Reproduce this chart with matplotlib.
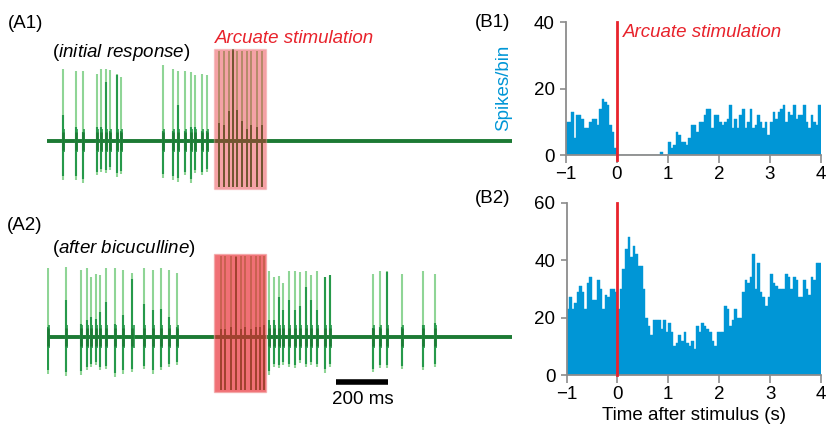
import numpy as np
import matplotlib
matplotlib.use("Agg")
import matplotlib.pyplot as plt
from matplotlib.patches import Rectangle

plt.rcParams['font.family'] = 'Liberation Sans'
plt.rcParams['mathtext.fontset'] = 'custom'
plt.rcParams['mathtext.it'] = 'Liberation Sans:italic'
plt.rcParams['mathtext.rm'] = 'Liberation Sans'

# ---------------------------------------------------------------------------
# DATA
# ---------------------------------------------------------------------------
# traces: spike time (s), upward peak, downward peak, dark core height (a.u.)
a1_t    = [0.063, 0.112, 0.137, 0.191, 0.207, 0.227, 0.242, 0.270, 0.283,
           0.446, 0.486, 0.505, 0.531, 0.553, 0.569, 0.595, 0.617]
a1_up   = [72, 70, 70, 67, 72, 72, 71, 67, 64, 76, 72, 70, 70, 69, 66, 67, 66]
a1_down = [39, 39, 42, 34, 31, 32, 29, 36, 33, 37, 39, 41, 34, 42, 32, 34, 31]
a1_core = [26, 14, 9, 14, 14, 59, 10, 66, 10, 10, 10, 36, 10, 14, 14, 10, 10]

a2_t    = [0.005, 0.072, 0.129, 0.154, 0.170, 0.187, 0.204, 0.228, 0.260,
           0.293, 0.329, 0.373, 0.409, 0.437, 0.470, 0.499,
           0.854, 0.873, 0.892, 0.909, 0.931, 0.954, 0.975, 0.997, 1.018,
           1.038, 1.069, 1.088, 1.255, 1.281, 1.307, 1.368, 1.446, 1.492]
a2_up   = [69, 70, 67, 69, 60, 63, 62, 69, 69, 67, 64, 69, 67, 69, 67, 64,
           66, 60, 61, 54, 66, 66, 65, 66, 62, 66, 60, 61, 63, 66, 66, 63, 66, 63]
a2_down = [37, 39, 38, 33, 30, 28, 33, 32, 40, 37, 35, 32, 37, 33, 30, 28,
           38, 30, 31, 28, 30, 31, 26, 30, 28, 30, 36, 30, 35, 31, 31, 32, 33, 30]
a2_core = [10, 37, 13, 17, 20, 18, 25, 35, 13, 22, 58, 33, 27, 28, 20, 10,
           17, 17, 40, 27, 37, 27, 31, 50, 37, 27, 60, 62, 9, 10, 65, 10, 12, 14]

# stimulus pulses (artefacts) during the 200 ms arcuate train
stim1_t    = [0.663, 0.682, 0.702, 0.717, 0.733, 0.750, 0.768, 0.787, 0.807, 0.826]
stim1_core = [18, 16, 30, 92, 31, 20, 12, 16, 14, 16]
stim2_t    = [0.669, 0.687, 0.707, 0.726, 0.746, 0.764, 0.784, 0.803, 0.819, 0.836]
stim2_core = [8, 8, 10, 80, 8, 10, 8, 10, 10, 12]

# peristimulus histograms, 0.05 s bins from -1 to 4 s
bin_left = np.round(np.arange(-1, 4, 0.05), 2)
b1_counts = [10, 10, 13, 5, 12, 12, 11, 8, 8, 10, 11, 11, 9, 14, 17, 16, 15, 9, 7, 2,
             0, 0, 0, 0, 0, 0, 0, 0, 0, 0, 0, 0, 0, 0, 0, 0, 0, 1, 0, 0,
             4, 2, 3, 7, 6, 4, 4, 3, 5, 9, 9, 7, 10, 10, 12, 14, 14, 8, 12, 12,
             10, 9, 10, 11, 15, 8, 11, 8, 12, 14, 8, 10, 14, 8, 9, 12, 10, 8, 10, 6,
             10, 13, 11, 13, 14, 15, 10, 13, 12, 15, 11, 12, 12, 15, 10, 8, 12, 10, 9, 15]
b2_counts = [23, 27, 23, 25, 29, 31, 29, 23, 32, 34, 26, 26, 33, 30, 23, 28, 27, 30, 30, 29,
             23, 30, 37, 44, 48, 41, 45, 42, 38, 38, 30, 20, 17, 14, 19, 19, 19, 16, 19, 15,
             18, 15, 10, 11, 14, 12, 15, 11, 10, 12, 9, 17, 15, 18, 17, 16, 15, 12, 10, 15,
             15, 15, 24, 23, 17, 19, 23, 20, 20, 29, 33, 32, 34, 42, 30, 39, 29, 27, 24, 27,
             35, 32, 31, 30, 30, 30, 35, 34, 30, 34, 33, 27, 27, 33, 30, 28, 34, 33, 39, 39]

stim_start, stim_dur = 0.642, 0.2
trace_len = 1.79

# ---------------------------------------------------------------------------
W, H = 827, 432
LIGHT = '#8fd596'
MID = '#26994a'
DARK = '#1c7a34'
RED = '#e8232c'
BLUE = '#0096d6'
GREY = '#8c8c8c'

fig = plt.figure(figsize=(W / 100, H / 100), dpi=100)


def px_axes(l, t, r, b):
    return fig.add_axes([l / W, 1 - b / H, (r - l) / W, (b - t) / H])


def px_text(x, y, s, **kw):
    fig.text(x / W, 1 - y / H, s, fontsize=13.5, va='baseline', **kw)


def draw_trace(ax, t, up, down, core):
    ax.plot([0, trace_len], [0, 0], color=DARK, lw=2.8, solid_capstyle='butt')
    ax.vlines(t, -np.array(down), up, color=LIGHT, lw=1.5)
    ax.vlines(t, -np.array(down) * 0.9, core, color=MID, lw=1.5)
    ax.vlines(np.array(t) + 0.004, -11, 12, color=MID, lw=1.2)
    ax.vlines(t, -9, 9, color=DARK, lw=1.8)


def draw_stim(ax, t, core, top, bottom, alpha):
    ax.vlines(t, bottom, top, color=LIGHT, lw=1.4)
    ax.vlines(t, bottom, core, color=DARK, lw=1.4)
    ax.add_patch(Rectangle((stim_start, bottom - 2), stim_dur, top - bottom + 4,
                           facecolor=RED, alpha=alpha, edgecolor='#f2a0a0',
                           lw=1.0, zorder=5))


# ── A1 ──
ax_a1 = px_axes(47, 45, 512, 195)
draw_trace(ax_a1, a1_t, a1_up, a1_down, a1_core)
draw_stim(ax_a1, stim1_t, stim1_core, 90, -46, 0.42)
ax_a1.set_xlim(0, trace_len)
ax_a1.set_ylim(-54, 96)
ax_a1.axis('off')

# ── A2 ──
ax_a2 = px_axes(47, 241, 512, 412)
draw_trace(ax_a2, a2_t, a2_up, a2_down, a2_core)
draw_stim(ax_a2, stim2_t, stim2_core, 81, -53, 0.65)
ax_a2.plot([1.112, 1.312], [-45, -45], color='black', lw=4, solid_capstyle='butt')
ax_a2.set_xlim(0, trace_len)
ax_a2.set_ylim(-75, 96)
ax_a2.axis('off')

# ── B1 / B2 histograms ──
ax_b1 = px_axes(566, 22.3, 821, 155)
ax_b2 = px_axes(566.5, 202.7, 821, 375)
for ax, counts, top in [(ax_b1, b1_counts, 40), (ax_b2, b2_counts, 60)]:
    ax.bar(bin_left, counts, width=0.05, align='edge', color=BLUE,
           edgecolor=BLUE, lw=0.3)
    ax.set_xlim(-1, 4)
    ax.set_ylim(0, top)
    ax.set_yticks(np.arange(0, top + 1, 20))
    ax.set_xticks(range(-1, 5))
    ax.set_xticklabels(['\u22121', '0', '1', '2', '3', '4'])
    for s in ['top', 'right']:
        ax.spines[s].set_visible(False)
    for s in ['left', 'bottom']:
        ax.spines[s].set_color(GREY)
        ax.spines[s].set_linewidth(1.3)
    ax.tick_params(axis='x', direction='out', length=6, width=1.2, color=GREY,
                   labelsize=13.5, pad=2)
    ax.tick_params(axis='y', direction='out', length=4, width=1.2, color=GREY,
                   labelsize=13.5, pad=4)

ax_b1.plot([0, 0], [-1.5, 40], color=RED, lw=2, clip_on=False, zorder=5)
ax_b2.plot([0, 0], [0, 60], color=RED, lw=2, clip_on=False, zorder=5)

ax_b1.set_ylabel('Spikes/bin', color=BLUE, fontsize=13.5)
ax_b1.yaxis.set_label_coords(-0.21, 0.505)
ax_b2.set_xlabel('Time after stimulus (s)', fontsize=13.5, labelpad=3)

# ── texts ──
px_text(8, 27.5, '(A1)')
px_text(51.7, 56.7, r'($\mathit{initial\ response}$)')
px_text(215, 42.7, 'Arcuate stimulation', color=RED, style='italic')
px_text(7.3, 230, '(A2)')
px_text(51.7, 253.3, r'($\mathit{after\ bicuculline}$)')
px_text(362.7, 404, '200 ms', ha='center')
px_text(475, 27.3, '(B1)')
px_text(622.7, 36.7, 'Arcuate stimulation', color=RED, style='italic')
px_text(475, 203, '(B2)')

fig.savefig('out.png', dpi=100)
